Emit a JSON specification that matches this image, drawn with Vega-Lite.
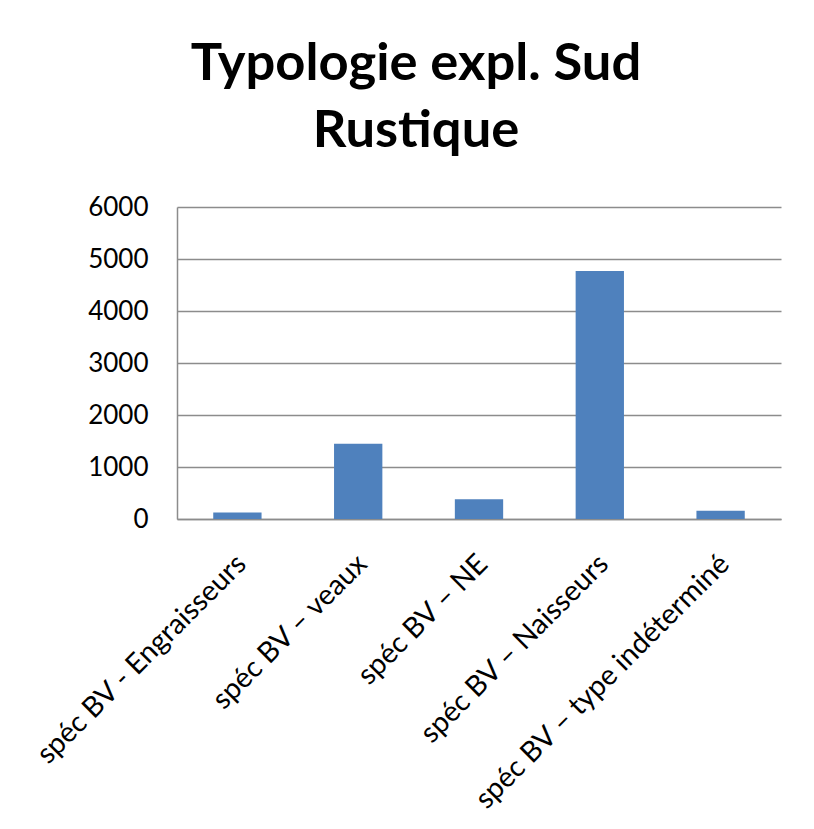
{
  "$schema": "https://vega.github.io/schema/vega-lite/v6.json",
  "autosize": {"type": "none"},
  "width": 604,
  "height": 312,
  "padding": {"left": 177, "top": 207, "right": 33, "bottom": 310},
  "background": "white",
  "title": {
    "text": ["Typologie expl. Sud", "Rustique"],
    "font": "Lato",
    "fontWeight": "bold",
    "fontSize": 52.5,
    "lineHeight": 67,
    "color": "black",
    "anchor": "middle",
    "frame": "group",
    "dx": -63,
    "offset": 36
  },
  "data": {
    "values": [
      {"categorie": "spéc BV - Engraisseurs", "valeur": 127},
      {"categorie": "spéc BV –  veaux", "valeur": 1445},
      {"categorie": "spéc BV – NE", "valeur": 382},
      {"categorie": "spéc  BV – Naisseurs", "valeur": 4770},
      {"categorie": "spéc BV – type indéterminé", "valeur": 159}
    ]
  },
  "mark": {"type": "bar", "color": "#4F81BD"},
  "encoding": {
    "x": {
      "field": "categorie",
      "type": "nominal",
      "sort": null,
      "scale": {"paddingInner": 0.6, "paddingOuter": 0.3},
      "axis": {
        "title": null,
        "labelAngle": -45,
        "labelAlign": "right",
        "labelBaseline": "top",
        "labelPadding": 30,
        "labelOffset": -6,
        "labelFont": "Lato",
        "labelFontSize": 28.5,
        "labelColor": "black",
        "labelLimit": 0,
        "ticks": false,
        "domainColor": "#8c8c8c",
        "domainWidth": 1.5,
        "grid": false
      }
    },
    "y": {
      "field": "valeur",
      "type": "quantitative",
      "scale": {"domain": [0, 6000], "nice": false},
      "axis": {
        "title": null,
        "values": [0, 1000, 2000, 3000, 4000, 5000, 6000],
        "format": "d",
        "labelFont": "Lato",
        "labelFontSize": 26,
        "labelColor": "black",
        "labelPadding": 29,
        "ticks": false,
        "domainColor": "#8c8c8c",
        "domainWidth": 1.5,
        "grid": true,
        "gridColor": "#8c8c8c",
        "gridWidth": 1.5
      }
    }
  },
  "config": {"view": {"stroke": null}}
}
